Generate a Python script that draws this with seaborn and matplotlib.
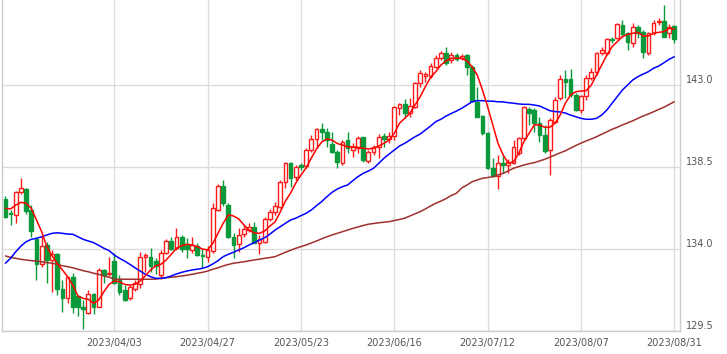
import matplotlib
matplotlib.use("Agg")
import numpy as np
import pandas as pd
import seaborn as sns
import matplotlib.pyplot as plt

# trading days shown on the chart
dates = pd.bdate_range("2023-03-03", "2023-08-31")

opens = [
    136.74, 135.99, 135.87, 137.11, 137.29, 136.14, 134.53, 133.18, 134.22, 133.40,
    133.73, 131.80, 131.29, 132.45, 131.42, 130.83, 130.50, 131.53, 130.83, 132.85,
    132.61, 133.34, 132.35, 131.75, 131.29, 131.80, 132.06, 133.56, 133.58, 133.34,
    132.57, 133.76, 134.44, 134.04, 134.64, 134.27, 133.95, 134.18, 133.67, 133.58,
    133.89, 136.14, 137.47, 136.41, 134.67, 134.26, 134.81, 135.04, 135.19, 134.35,
    134.40, 135.65, 136.05, 136.32, 137.69, 138.70, 137.97, 138.61, 138.57, 139.43,
    140.04, 140.57, 140.44, 139.75, 139.31, 138.74, 139.98, 139.43, 139.53, 140.13,
    138.85, 139.34, 139.58, 140.20, 140.02, 140.22, 141.72, 141.94, 141.45, 141.81,
    143.09, 143.49, 143.49, 144.00, 144.47, 144.74, 144.37, 144.65, 144.47, 144.65,
    144.00, 142.08, 141.30, 140.35, 138.43, 138.01, 138.74, 138.61, 138.74, 139.25,
    140.08, 141.67, 141.63, 140.90, 140.26, 139.43, 140.99, 142.27, 143.31, 143.31,
    142.45, 141.63, 142.40, 143.37, 143.73, 144.74, 144.77, 145.51, 145.56, 146.29,
    145.84, 145.29, 146.17, 145.93, 144.77, 145.84, 146.44, 146.51, 145.84, 146.24,
]
highs = [
    136.91, 136.14, 137.20, 137.88, 137.35, 136.41, 134.60, 134.77, 134.40, 133.95,
    133.78, 132.30, 132.48, 132.68, 131.48, 131.20, 131.75, 131.60, 132.96, 132.92,
    133.58, 133.76, 132.57, 132.02, 132.02, 132.30, 133.84, 133.78, 134.07, 133.51,
    133.95, 134.55, 134.67, 135.14, 134.77, 134.59, 134.67, 134.31, 134.00, 134.18,
    136.51, 137.55, 137.79, 136.52, 134.86, 135.14, 135.32, 135.41, 135.50, 134.77,
    135.77, 136.20, 136.60, 137.79, 138.79, 138.79, 138.61, 138.70, 139.53, 140.26,
    140.66, 140.90, 140.66, 140.44, 139.43, 139.98, 140.44, 139.80, 140.22, 140.16,
    139.43, 139.71, 140.30, 140.35, 140.44, 141.85, 142.03, 142.22, 142.27, 143.18,
    143.82, 143.73, 144.19, 144.65, 144.88, 145.10, 144.83, 144.74, 144.70, 144.70,
    144.10, 142.91, 141.35, 140.44, 138.98, 139.16, 139.10, 138.92, 139.98, 140.16,
    141.85, 141.81, 141.72, 141.23, 140.81, 141.17, 142.36, 143.55, 143.82, 143.86,
    142.58, 142.45, 143.55, 143.92, 144.83, 145.10, 145.56, 145.65, 146.39, 146.57,
    145.93, 146.39, 146.29, 146.02, 145.93, 146.57, 146.66, 147.39, 146.35, 146.29,
]
lows = [
    135.70, 135.32, 135.43, 137.02, 135.92, 134.67, 132.30, 133.03, 132.13, 131.66,
    131.48, 130.56, 131.02, 130.50, 130.32, 129.59, 130.43, 130.43, 130.79, 132.12,
    132.52, 132.08, 131.48, 131.15, 131.20, 131.70, 131.86, 132.75, 132.75, 132.63,
    132.34, 133.71, 133.95, 133.95, 133.82, 133.49, 133.76, 133.62, 132.94, 133.30,
    133.76, 136.09, 136.38, 134.60, 133.49, 133.85, 134.67, 134.95, 134.31, 133.71,
    134.31, 135.54, 135.87, 136.23, 137.33, 137.42, 137.79, 138.34, 138.43, 139.34,
    139.53, 139.98, 139.61, 139.25, 138.43, 138.61, 139.25, 139.07, 139.25, 138.79,
    138.70, 139.16, 138.98, 139.61, 139.80, 139.98, 141.35, 141.17, 141.26, 141.72,
    142.91, 143.18, 143.37, 143.92, 144.37, 144.10, 144.22, 144.33, 144.37, 143.55,
    142.08, 141.23, 140.26, 138.37, 137.93, 137.28, 138.15, 138.15, 138.67, 139.16,
    139.98, 140.81, 140.44, 139.89, 139.25, 138.06, 140.90, 142.18, 142.29, 142.36,
    141.59, 141.45, 142.18, 143.28, 143.55, 144.65, 144.65, 145.29, 145.51, 145.65,
    144.92, 145.10, 145.58, 144.47, 144.65, 145.74, 146.29, 145.62, 145.56, 145.29,
]
closes = [
    135.77, 135.90, 137.11, 137.33, 136.10, 135.00, 133.16, 134.16, 133.40, 133.71,
    131.79, 131.29, 132.45, 130.83, 130.80, 130.69, 131.51, 130.80, 132.85, 132.57,
    132.70, 132.13, 131.66, 131.20, 131.93, 132.12, 133.58, 133.65, 133.08, 133.08,
    133.76, 134.44, 134.00, 134.64, 134.00, 134.00, 134.22, 133.67, 133.62, 133.95,
    136.23, 137.47, 136.51, 134.66, 134.22, 134.77, 135.10, 135.19, 134.35, 134.53,
    135.65, 136.05, 136.36, 137.69, 138.70, 137.88, 138.52, 138.52, 139.43, 140.02,
    140.57, 140.40, 139.98, 139.31, 138.79, 139.89, 139.53, 139.61, 140.08, 138.88,
    139.31, 139.58, 140.16, 140.02, 140.22, 141.78, 141.94, 141.45, 141.85, 143.09,
    143.64, 143.59, 144.06, 144.47, 144.74, 144.19, 144.65, 144.41, 144.61, 144.00,
    142.14, 141.26, 140.35, 138.43, 138.01, 138.74, 138.61, 138.79, 139.61, 140.08,
    141.78, 141.45, 140.90, 140.26, 139.39, 141.08, 142.18, 143.31, 143.18, 142.45,
    141.63, 142.40, 143.37, 143.73, 144.74, 144.92, 145.51, 145.47, 146.35, 145.78,
    145.38, 146.20, 145.84, 144.83, 145.84, 146.39, 146.51, 145.65, 146.20, 145.51,
]

# moving averages as drawn on the chart
ma_short = [
    136.23, 136.20, 136.41, 136.56, 136.51, 136.23, 135.59, 134.95, 134.13, 133.62,
    133.22, 132.85, 132.48, 132.02, 131.42, 131.29, 131.24, 131.02, 131.20, 131.66,
    132.06, 132.24, 132.21, 132.06, 132.02, 132.06, 132.24, 132.53, 132.85, 133.08,
    133.16, 133.40, 133.71, 134.04, 134.18, 134.26, 134.22, 134.13, 134.00, 133.95,
    134.31, 134.86, 135.41, 135.87, 135.81, 135.65, 135.32, 135.04, 134.88, 134.86,
    134.99, 135.26, 135.48, 136.03, 136.63, 137.07, 137.62, 138.06, 138.45, 138.99,
    139.49, 139.87, 140.04, 139.98, 139.79, 139.71, 139.61, 139.60, 139.58, 139.53,
    139.49, 139.53, 139.65, 139.80, 139.98, 140.35, 140.90, 141.17, 141.45, 141.90,
    142.36, 142.91, 143.42, 143.73, 144.10, 144.33, 144.47, 144.47, 144.47, 144.33,
    144.00, 143.55, 142.73, 141.81, 140.81, 139.80, 139.16, 138.70, 138.79, 139.25,
    139.89, 140.35, 140.81, 140.81, 140.68, 140.68, 140.90, 141.35, 142.01, 142.45,
    142.63, 142.67, 142.69, 143.00, 143.55, 144.10, 144.65, 145.10, 145.38, 145.65,
    145.78, 145.84, 145.89, 145.69, 145.69, 145.84, 145.89, 145.93, 146.11, 146.06,
]
ma_mid = [
    133.22, 133.49, 133.85, 134.16, 134.40, 134.53, 134.59, 134.67, 134.77, 134.86,
    134.89, 134.86, 134.82, 134.81, 134.67, 134.53, 134.44, 134.35, 134.20, 134.04,
    133.91, 133.67, 133.49, 133.34, 133.16, 132.97, 132.79, 132.61, 132.48, 132.39,
    132.39, 132.43, 132.52, 132.63, 132.72, 132.79, 132.85, 132.89, 132.94, 133.03,
    133.18, 133.36, 133.58, 133.71, 133.82, 133.95, 134.07, 134.22, 134.35, 134.49,
    134.62, 134.81, 135.04, 135.22, 135.41, 135.59, 135.69, 135.83, 135.96, 136.14,
    136.38, 136.60, 136.87, 137.11, 137.29, 137.42, 137.51, 137.75, 137.97, 138.15,
    138.28, 138.43, 138.70, 138.98, 139.21, 139.43, 139.65, 139.80, 139.98, 140.16,
    140.31, 140.53, 140.75, 140.99, 141.12, 141.30, 141.44, 141.57, 141.72, 141.90,
    142.08, 142.14, 142.14, 142.12, 142.11, 142.08, 142.07, 142.03, 142.00, 141.96,
    141.94, 141.94, 141.90, 141.85, 141.72, 141.59, 141.54, 141.52, 141.46, 141.35,
    141.26, 141.17, 141.12, 141.12, 141.17, 141.35, 141.63, 142.00, 142.36, 142.73,
    143.00, 143.28, 143.46, 143.60, 143.73, 143.92, 144.04, 144.22, 144.41, 144.55,
]
ma_long = [
    133.62, 133.54, 133.49, 133.43, 133.40, 133.36, 133.34, 133.30, 133.25, 133.22,
    133.16, 133.08, 133.03, 132.97, 132.89, 132.81, 132.75, 132.67, 132.61, 132.52,
    132.45, 132.35, 132.34, 132.34, 132.34, 132.34, 132.34, 132.34, 132.34, 132.35,
    132.39, 132.43, 132.45, 132.48, 132.52, 132.56, 132.61, 132.67, 132.72, 132.79,
    132.89, 132.97, 133.07, 133.15, 133.22, 133.26, 133.30, 133.35, 133.40, 133.44,
    133.49, 133.53, 133.58, 133.70, 133.82, 133.93, 134.04, 134.13, 134.22, 134.33,
    134.44, 134.56, 134.67, 134.77, 134.86, 134.95, 135.04, 135.13, 135.21, 135.29,
    135.36, 135.40, 135.44, 135.47, 135.50, 135.56, 135.62, 135.69, 135.81, 135.93,
    136.05, 136.20, 136.36, 136.51, 136.63, 136.77, 136.94, 137.06, 137.35, 137.51,
    137.69, 137.79, 137.88, 137.92, 137.97, 138.06, 138.15, 138.29, 138.43, 138.52,
    138.61, 138.68, 138.74, 138.83, 138.92, 139.04, 139.16, 139.28, 139.39, 139.54,
    139.68, 139.81, 139.93, 140.04, 140.16, 140.30, 140.43, 140.57, 140.68, 140.81,
    140.92, 141.04, 141.17, 141.30, 141.41, 141.53, 141.66, 141.78, 141.93, 142.08,
]

tick_dates = ["2023/04/03", "2023/04/27", "2023/05/23", "2023/06/16",
              "2023/07/12", "2023/08/07", "2023/08/31"]
y_ticks = [129.5, 134.0, 138.5, 143.0]

df = pd.DataFrame({"date": dates, "open": opens, "high": highs, "low": lows,
                   "close": closes, "ma5": ma_short, "ma25": ma_mid, "ma75": ma_long})
df["pos"] = np.arange(len(df))
up = df["close"] >= df["open"]

sns.set_style("white")
plt.rcParams["font.family"] = ["DejaVu Sans"]

fig = plt.figure(figsize=(7.27, 3.54), dpi=100)
ax = fig.add_axes([1.7 / 727, 23 / 354, (680 - 1.7) / 727, 331 / 354])

red = "#ff1a1a"
green = "#0a9a3c"

# candles
for is_up, col in [(True, red), (False, green)]:
    d = df[up == is_up]
    ax.vlines(d["pos"], d["low"], d["high"], color=col, lw=1, zorder=2)
    body = (d["close"] - d["open"]).abs().clip(lower=0.02)
    ax.bar(d["pos"], body, bottom=d[["open", "close"]].min(axis=1), width=0.72,
           facecolor="white" if is_up else green, edgecolor=col, lw=1, zorder=3)

# moving averages
sns.lineplot(data=df, x="pos", y="ma75", color="#a03030", lw=1.1, ax=ax, zorder=4)
sns.lineplot(data=df, x="pos", y="ma25", color="#0000ff", lw=1.1, ax=ax, zorder=4)
sns.lineplot(data=df, x="pos", y="ma5", color="#ff0000", lw=1.1, ax=ax, zorder=5)

tick_pos = [df.index[df["date"] == pd.Timestamp(t.replace("/", "-"))][0] for t in tick_dates]
ax.set_xticks(tick_pos)
ax.set_xticklabels(tick_dates)
ax.set_yticks(y_ticks)
ax.set_yticklabels([f"{v:.1f}" for v in y_ticks])
ax.yaxis.tick_right()
ax.set_xlim(-0.71, 130.1)
ax.set_ylim(129.5, 147.665)
ax.set_xlabel("")
ax.set_ylabel("")

ax.grid(True, color="#dcdcdc", lw=1, zorder=0)
ax.set_axisbelow(True)
ax.tick_params(axis="both", length=0, labelsize=7, colors="#555555")
ax.tick_params(axis="x", pad=5)
ax.tick_params(axis="y", pad=4)
for lab in ax.get_yticklabels():
    lab.set_verticalalignment("bottom")

for side in ["left", "bottom", "right"]:
    ax.spines[side].set_color("#cccccc")
    ax.spines[side].set_linewidth(1)
ax.spines["top"].set_visible(False)

fig.savefig("out.png", dpi=100)
